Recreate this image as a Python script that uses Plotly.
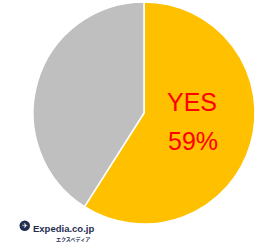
import plotly.graph_objects as go

labels = ["YES", "NO"]
values = [59, 41]
colors = ["#FFC000", "#BFBFBF"]
brand = "Expedia.co.jp"
brand_jp = "エクスペディア"

W, H = 262, 249

fig = go.Figure(go.Pie(
    labels=labels,
    values=values,
    sort=False,
    direction="clockwise",
    rotation=0,
    marker=dict(colors=colors, line=dict(color="white", width=1.5)),
    textinfo="none",
    hoverinfo="label+percent",
    showlegend=False,
    domain=dict(x=[33 / W, 255 / W], y=[1 - 224 / H, 1 - 2 / H]),
))

red_font = dict(family="Liberation Sans, Arial, sans-serif", size=25, color="#FF0000")
fig.add_annotation(x=192 / W, y=1 - 102 / H, xref="paper", yref="paper",
                   xanchor="center", yanchor="middle",
                   text=labels[0], showarrow=False, font=red_font)
fig.add_annotation(x=193 / W, y=1 - 141 / H, xref="paper", yref="paper",
                   xanchor="center", yanchor="middle",
                   text=f"{values[0]}%", showarrow=False, font=red_font)

# logo
navy = "#1F2D50"
fig.add_shape(type="circle", xref="paper", yref="paper",
              x0=19.5 / W, x1=30 / W, y0=1 - 231 / H, y1=1 - 220.5 / H,
              fillcolor=navy, line=dict(width=0))
fig.add_annotation(x=24.8 / W, y=1 - 225.8 / H, xref="paper", yref="paper",
                   xanchor="center", yanchor="middle",
                   text="✈", showarrow=False,
                   font=dict(size=7, color="white"))
fig.add_annotation(x=30.5 / W, y=1 - 228 / H, xref="paper", yref="paper",
                   xanchor="left", yanchor="middle", text=f"<b>{brand}</b>", showarrow=False,
                   font=dict(family="Liberation Sans, Arial, sans-serif", size=9.5, color=navy))
fig.add_annotation(x=92 / W, y=1 - 239 / H, xref="paper", yref="paper",
                   xanchor="right", yanchor="middle", text=f"<b>{brand_jp}</b>", showarrow=False,
                   font=dict(family="Noto Sans CJK JP", size=5, color=navy))

fig.update_layout(
    width=W, height=H,
    margin=dict(l=0, r=0, t=0, b=0),
    paper_bgcolor="white",
    plot_bgcolor="white",
)

fig.write_html("out.html", config={"displayModeBar": False},
               post_script="document.body.style.margin='0';")
